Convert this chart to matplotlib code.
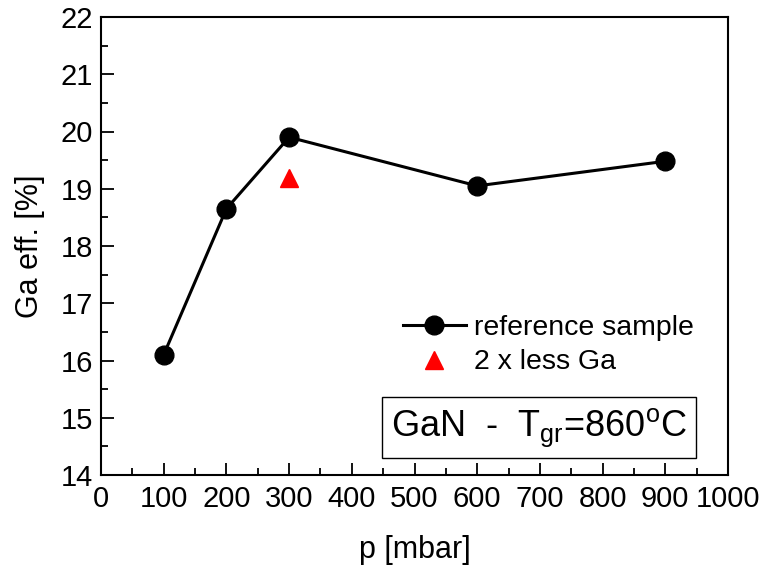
import matplotlib
matplotlib.use("Agg")
import matplotlib.pyplot as plt
from matplotlib.ticker import MultipleLocator

plt.rcParams['font.family'] = ['Liberation Sans', 'DejaVu Sans']

p_ref = [100, 200, 300, 600, 900]
eff_ref = [16.1, 18.65, 19.9, 19.05, 19.48]
p_less = [300]
eff_less = [19.18]

fig = plt.figure(figsize=(7.63, 5.65), dpi=100)
ax = fig.add_axes([101/763, 1-475/565, (728-101)/763, (475-17)/565])

ax.plot(p_ref, eff_ref, '-o', color='black', lw=2.2, ms=13.5, label='reference sample')
ax.plot(p_less, eff_less, '^', color='red', ms=13, ls='none', label='2 x less Ga')

ax.set_xlim(0, 1000)
ax.set_ylim(14, 22)
ax.xaxis.set_major_locator(MultipleLocator(100))
ax.xaxis.set_minor_locator(MultipleLocator(50))
ax.yaxis.set_major_locator(MultipleLocator(1))
ax.yaxis.set_minor_locator(MultipleLocator(0.5))
ax.tick_params(which='both', direction='in', labelsize=21, width=1.3)
ax.tick_params(which='major', length=9)
ax.tick_params(which='minor', length=5)
ax.tick_params(axis='x', which='both', pad=7)
ax.tick_params(axis='y', which='both', pad=6)
for s in ax.spines.values():
    s.set_linewidth(1.5)

ax.set_xlabel('p [mbar]', fontsize=22, labelpad=16)
ax.set_ylabel('Ga eff. [%]', fontsize=22, labelpad=11)

ax.legend(loc='lower right', bbox_to_anchor=(0.973, 0.18), frameon=False, fontsize=20.5,
          handlelength=2.2, handletextpad=0.3, labelspacing=0.3, borderaxespad=0.2)

ax.text(0.699, 0.104, r'GaN  -  T$_{\mathregular{gr}}$=860$^{\mathregular{o}}$C', transform=ax.transAxes,
        fontsize=26, ha='center', va='center',
        bbox=dict(boxstyle='square,pad=0.25', fc='white', ec='black', lw=1.0))

fig.savefig('out.png', dpi=100)
